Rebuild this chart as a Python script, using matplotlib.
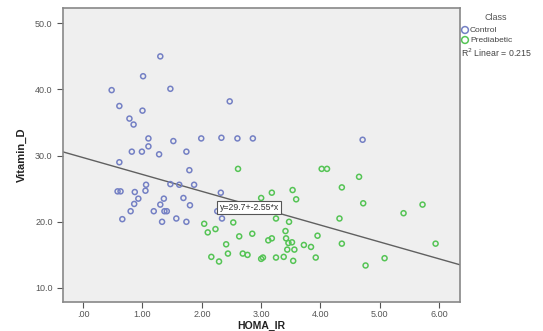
import matplotlib
matplotlib.use("Agg")
import matplotlib.pyplot as plt

plt.rcParams['font.family'] = ['Liberation Sans', 'DejaVu Sans']

control_x = [1.30, 1.01, 0.48, 1.47, 0.61, 1.00, 0.78, 0.85, 1.10, 1.52, 1.10, 0.82,
             0.99, 1.28, 1.74, 1.99, 0.61, 1.79, 2.47, 2.33, 2.60, 2.86, 4.71, 1.06,
             1.47, 1.62, 1.87, 0.58, 0.63, 0.87, 1.05, 0.93, 1.36, 1.69, 0.86, 1.30,
             1.80, 0.80, 1.19, 1.37, 1.41, 0.66, 1.57, 1.33, 1.74, 2.32, 2.26, 2.34]
control_y = [45.0, 42.0, 39.9, 40.1, 37.5, 36.8, 35.6, 34.7, 32.6, 32.2, 31.4, 30.6,
             30.6, 30.2, 30.6, 32.6, 29.0, 27.8, 38.2, 32.7, 32.6, 32.6, 32.4, 25.6,
             25.7, 25.6, 25.6, 24.6, 24.6, 24.5, 24.7, 23.5, 23.5, 23.6, 22.7, 22.6,
             22.5, 21.6, 21.6, 21.6, 21.6, 20.4, 20.5, 20.0, 20.0, 24.4, 21.6, 20.5]

prediab_x = [2.61, 4.02, 4.11, 4.65, 4.36, 3.18, 3.53, 3.00, 3.59, 4.72, 5.72, 5.40,
             3.25, 3.47, 4.32, 2.53, 2.04, 2.23, 2.10, 2.85, 3.41, 2.63, 3.95, 2.41,
             3.12, 3.18, 3.42, 3.46, 3.52, 3.72, 3.84, 4.36, 3.44, 3.56, 2.44, 2.69,
             2.77, 2.16, 2.29, 3.00, 3.03, 3.25, 3.38, 3.54, 3.92, 5.08, 4.76, 5.94]
prediab_y = [28.0, 28.0, 28.0, 26.8, 25.2, 24.4, 24.8, 23.6, 23.4, 22.8, 22.6, 21.3,
             20.5, 20.0, 20.5, 19.9, 19.7, 18.9, 18.4, 18.2, 18.6, 17.8, 17.9, 16.6,
             17.2, 17.5, 17.5, 16.8, 16.9, 16.5, 16.2, 16.7, 15.8, 15.8, 15.2, 15.2,
             15.0, 14.7, 14.0, 14.4, 14.6, 14.6, 14.7, 14.1, 14.6, 14.5, 13.4, 16.7]

intercept = 29.7
slope = -2.55
r2 = 0.215

x_ticks = [0, 1, 2, 3, 4, 5, 6]
x_ticklabels = ['.00', '1.00', '2.00', '3.00', '4.00', '5.00', '6.00']
y_ticks = [10, 20, 30, 40, 50]
y_ticklabels = ['10.0', '20.0', '30.0', '40.0', '50.0']

blue = '#7480c4'
green = '#55c455'

fig = plt.figure(figsize=(5.43, 3.31), dpi=100)
ax = fig.add_axes([0.116, 0.0876, 0.731, 0.888])
ax.set_facecolor('#efefef')

xmin, xmax = -0.34, 6.35
ax.set_xlim(xmin, xmax)
ax.set_ylim(7.88, 52.3)

ax.scatter(control_x, control_y, s=13, facecolors='none', edgecolors=blue, linewidths=1.1, zorder=3)
ax.scatter(prediab_x, prediab_y, s=13, facecolors='none', edgecolors=green, linewidths=1.1, zorder=3)

ax.plot([xmin, xmax], [intercept + slope * xmin, intercept + slope * xmax],
        color='#606060', lw=1.0, zorder=2)

ax.text(2.30, 22.2, f'y={intercept}+{slope}*x', fontsize=6.3, ha='left', va='center',
        color='#333333', zorder=4,
        bbox=dict(boxstyle='square,pad=0.25', facecolor='white', edgecolor='#555555', lw=0.8))

ax.set_xticks(x_ticks)
ax.set_xticklabels(x_ticklabels)
ax.set_yticks(y_ticks)
ax.set_yticklabels(y_ticklabels)
ax.tick_params(axis='both', labelsize=6.5, colors='#555555', length=4, width=0.8, direction='out')
ax.tick_params(axis='x', pad=2)
for sp in ax.spines.values():
    sp.set_color('#888888')
    sp.set_linewidth(1.2)

ax.set_xlabel('HOMA_IR', fontsize=7.5, fontweight='bold', color='#222222', labelpad=1)
ax.set_ylabel('Vitamin_D', fontsize=8, fontweight='bold', color='#222222', labelpad=6)

# legend
lax = fig.add_axes([0, 0, 1, 1], facecolor='none')
lax.set_xlim(0, 543)
lax.set_ylim(331, 0)
lax.axis('off')
lax.text(496, 17, 'Class', fontsize=6.5, ha='center', va='center', color='#555555')
lax.scatter([465], [30], s=24, facecolors='none', edgecolors=blue, linewidths=1.1)
lax.scatter([465], [40], s=24, facecolors='none', edgecolors=green, linewidths=1.1)
lax.text(470, 30, 'Control', fontsize=6, va='center', ha='left', color='#444444')
lax.text(470, 40, 'Prediabetic', fontsize=6, va='center', ha='left', color='#444444')
lax.text(461, 53, f'R$^2$ Linear = {r2}', fontsize=6.3, va='center', ha='left', color='#444444')

fig.savefig('out.png', dpi=100)
